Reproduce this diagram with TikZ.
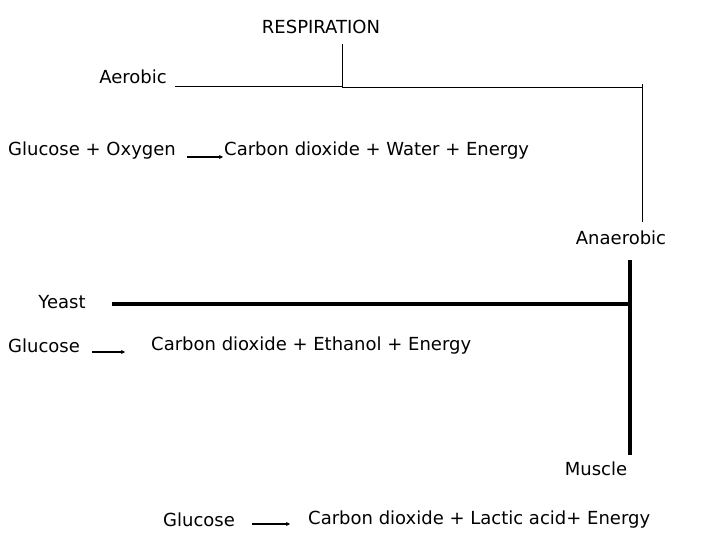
\documentclass[tikz,border=0pt]{standalone}
\usepackage{fontspec}
\setmainfont{DejaVu Sans}
\usetikzlibrary{arrows.meta}
\begin{document}
\begin{tikzpicture}[x=1pt,y=-1pt,
  lbl/.style={inner sep=0pt,font=\fontsize{18}{20}\selectfont},
  thin line/.style={line width=1pt},
  thick line/.style={line width=3.2pt},
  arr/.style={line width=1.5pt,-{Stealth[length=4pt,width=4pt]}}]
\useasboundingbox (0,0) rectangle (720,540);
\node[lbl] (resp) at (321,27) {RESPIRATION};
\node[lbl,anchor=east] (aer) at (167,77) {Aerobic};
\coordinate (a1) at (175,87);
\coordinate (a2) at (342,87);
\coordinate (t) at (342,44);
\coordinate (a3) at (342,88);
\coordinate (a4) at (642,88);
\coordinate (a5) at (642,222);
\draw[thin line] (a1) -- (a2);
\draw[thin line] (t) -- (a3) -- (a4);
\draw[thin line] (642,84) -- (a5);
\node[lbl,anchor=west] (g1) at (8,151) {Glucose + Oxygen};
\node[lbl,anchor=west] (p1) at (224,151) {Carbon dioxide + Water + Energy};
\coordinate (r1s) at (187,157); \coordinate (r1e) at (223,157);
\draw[arr] (r1s) -- (r1e);
\node[lbl] (ana) at (621,238) {Anaerobic};
\coordinate (v1) at (630,260); \coordinate (v2) at (630,455);
\coordinate (h1) at (112,304); \coordinate (h2) at (630,304);
\draw[thick line] (v1) -- (v2);
\draw[thick line] (h1) -- (h2);
\node[lbl] (yeast) at (62,302) {Yeast};
\node[lbl,anchor=west] (g2) at (8,346) {Glucose};
\coordinate (r2s) at (92,352); \coordinate (r2e) at (125,352);
\draw[arr] (r2s) -- (r2e);
\node[lbl,anchor=west] (p2) at (151,346) {Carbon dioxide + Ethanol + Energy};
\node[lbl] (mus) at (596,469) {Muscle};
\node[lbl] (g3) at (199,520) {Glucose};
\coordinate (r3s) at (252,524); \coordinate (r3e) at (290,524);
\draw[arr] (r3s) -- (r3e);
\node[lbl,anchor=west] (p3) at (308,520) {Carbon dioxide + Lactic acid+ Energy};
\end{tikzpicture}
\end{document}
